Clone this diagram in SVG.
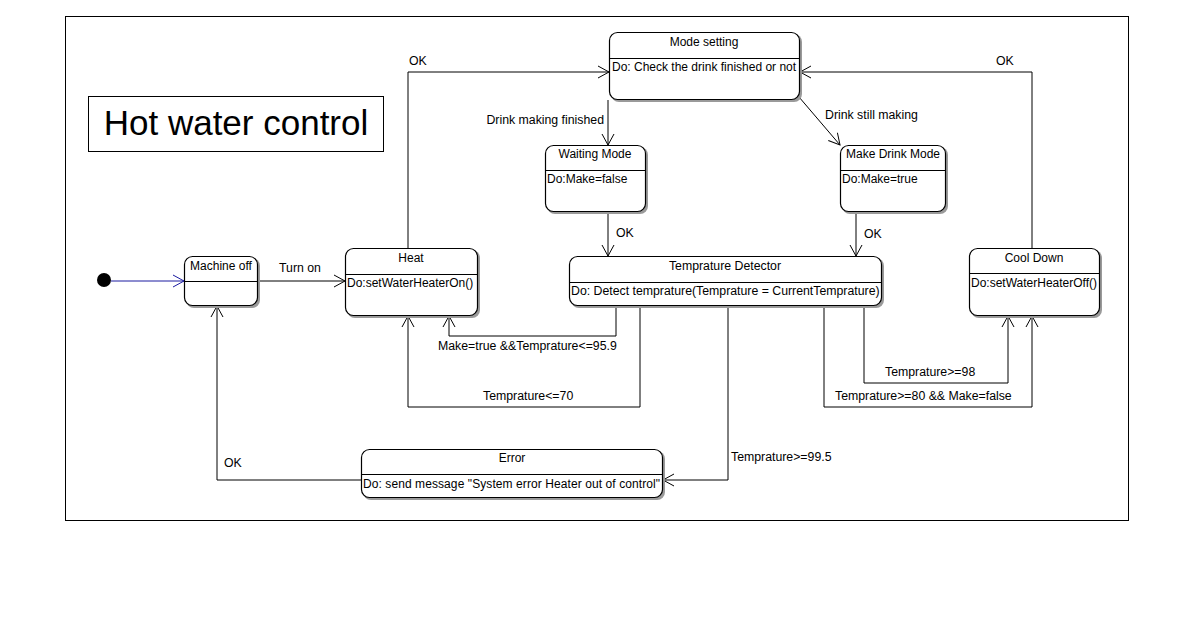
<svg xmlns="http://www.w3.org/2000/svg" width="1192" height="632" viewBox="0 0 1192 632">
<defs>
<marker id="arr" viewBox="-12 -7 14 14" refX="0" refY="0" markerWidth="14" markerHeight="14" markerUnits="userSpaceOnUse" orient="auto">
<path d="M -11 -6 L 0 0 L -11 6" fill="none" stroke="#000" stroke-width="1"/>
</marker>
<marker id="arrb" viewBox="-12 -7 14 14" refX="0" refY="0" markerWidth="14" markerHeight="14" markerUnits="userSpaceOnUse" orient="auto">
<path d="M -11 -6 L 0 0 L -11 6" fill="none" stroke="#1a1aa0" stroke-width="1"/>
</marker>
</defs>
<style>
text{font-family:"Liberation Sans",Arial,sans-serif;font-size:12px;fill:#000}
.l{font-size:12.3px}
.t{text-anchor:middle}
.box{fill:#fff;stroke:#000;stroke-width:1.2}
.sh{fill:#9a9a9a}
.div{stroke:#000;stroke-width:1}
.c{fill:none;stroke:#000;stroke-width:1;marker-end:url(#arr)}
</style>
<rect width="1192" height="632" fill="#fff"/>
<rect x="65.5" y="16.5" width="1063" height="504" fill="none" stroke="#000" stroke-width="1"/>
<g id="title">
<rect x="88.5" y="96.5" width="295" height="55" fill="#fff" stroke="#000" stroke-width="1"/>
<text x="236" y="135" class="t" style="font-size:35px">Hot water control</text>
</g>
<g id="connectors">
<line x1="111" y1="281" x2="184" y2="281" stroke="#1a1aa0" stroke-width="1" marker-end="url(#arrb)"/>
<path class="c" d="M258 281 H345"/>
<path class="c" d="M408 248 V72 H609"/>
<path class="c" d="M1032 248 V72 H800"/>
<path class="c" d="M608 100 V145"/>
<path class="c" d="M799 97 L840 145"/>
<path class="c" d="M608 212 V256"/>
<path class="c" d="M856 212 V256"/>
<path class="c" d="M616 306 V336 H449 V316"/>
<path class="c" d="M640 306 V407 H408 V316"/>
<path class="c" d="M728 306 V480 H663"/>
<path class="c" d="M864 306 V383 H1008 V316"/>
<path class="c" d="M824 306 V407 H1032 V316"/>
<path class="c" d="M361 480 H217 V306"/>
<text class="l" x="409" y="65">OK</text>
<text class="l" x="996" y="65">OK</text>
<text class="l" x="279" y="272">Turn on</text>
<text class="l" x="604" y="124" style="text-anchor:end">Drink making finished</text>
<text class="l" x="825" y="119">Drink still making</text>
<text class="l" x="616" y="237">OK</text>
<text class="l" x="864" y="238">OK</text>
<text class="l" x="438" y="350">Make=true &amp;&amp;Temprature&lt;=95.9</text>
<text class="l" x="483" y="400">Temprature&lt;=70</text>
<text class="l" x="885" y="376">Temprature&gt;=98</text>
<text class="l" x="835" y="400">Temprature&gt;=80 &amp;&amp; Make=false</text>
<text class="l" x="731" y="461">Temprature&gt;=99.5</text>
<text class="l" x="224" y="467">OK</text>
</g>
<g id="initial">
<circle cx="104" cy="280" r="7" fill="#000"/>
</g>
<g id="machine-off">
<rect class="sh" x="186" y="258" width="74" height="50" rx="8"/>
<rect class="box" x="184.5" y="256.5" width="73" height="49" rx="8"/>
<line class="div" x1="184.5" y1="281.5" x2="257.5" y2="281.5"/>
<text x="221" y="270" class="t">Machine off</text>
</g>
<g id="heat">
<rect class="sh" x="347" y="250" width="133" height="68" rx="8"/>
<rect class="box" x="345.5" y="248.5" width="132" height="67" rx="8"/>
<line class="div" x1="345.5" y1="274.5" x2="477.5" y2="274.5"/>
<text x="411" y="262" class="t">Heat</text>
<text x="347" y="287">Do:setWaterHeaterOn()</text>
</g>
<g id="mode-setting">
<rect class="sh" x="611" y="34" width="191" height="68" rx="8"/>
<rect class="box" x="609.5" y="32.5" width="190" height="67" rx="8"/>
<line class="div" x1="609.5" y1="58.5" x2="799.5" y2="58.5"/>
<text x="704" y="46" class="t">Mode setting</text>
<text x="612" y="71">Do: Check the drink finished or not</text>
</g>
<g id="waiting-mode">
<rect class="sh" x="547" y="147" width="101" height="67" rx="8"/>
<rect class="box" x="545.5" y="145.5" width="100" height="66" rx="8"/>
<line class="div" x1="545.5" y1="170.5" x2="645.5" y2="170.5"/>
<text x="595" y="158" class="t">Waiting Mode</text>
<text x="547" y="183">Do:Make=false</text>
</g>
<g id="make-drink-mode">
<rect class="sh" x="842" y="147" width="106" height="67" rx="8"/>
<rect class="box" x="840.5" y="145.5" width="105" height="66" rx="8"/>
<line class="div" x1="840.5" y1="170.5" x2="945.5" y2="170.5"/>
<text x="893" y="158" class="t">Make Drink Mode</text>
<text x="842" y="183">Do:Make=true</text>
</g>
<g id="temprature-detector">
<rect class="sh" x="571" y="258" width="313" height="50" rx="8"/>
<rect class="box" x="569.5" y="256.5" width="312" height="49" rx="8"/>
<line class="div" x1="569.5" y1="282.5" x2="881.5" y2="282.5"/>
<text class="l t" x="725" y="270">Temprature Detector</text>
<text class="l" x="571" y="295">Do: Detect temprature(Temprature = CurrentTemprature)</text>
</g>
<g id="cool-down">
<rect class="sh" x="971" y="250" width="131" height="68" rx="8"/>
<rect class="box" x="969.5" y="248.5" width="130" height="67" rx="8"/>
<line class="div" x1="969.5" y1="273.5" x2="1099.5" y2="273.5"/>
<text x="1034" y="262" class="t">Cool Down</text>
<text x="971" y="287">Do:setWaterHeaterOff()</text>
</g>
<g id="error">
<rect class="sh" x="363" y="451" width="302" height="49" rx="8"/>
<rect class="box" x="361.5" y="449.5" width="301" height="48" rx="8"/>
<line class="div" x1="361.5" y1="474.5" x2="662.5" y2="474.5"/>
<text x="512" y="462" class="t">Error</text>
<text x="363" y="488" textLength="297" lengthAdjust="spacing">Do: send message "System error Heater out of control"</text>
</g>
</svg>
